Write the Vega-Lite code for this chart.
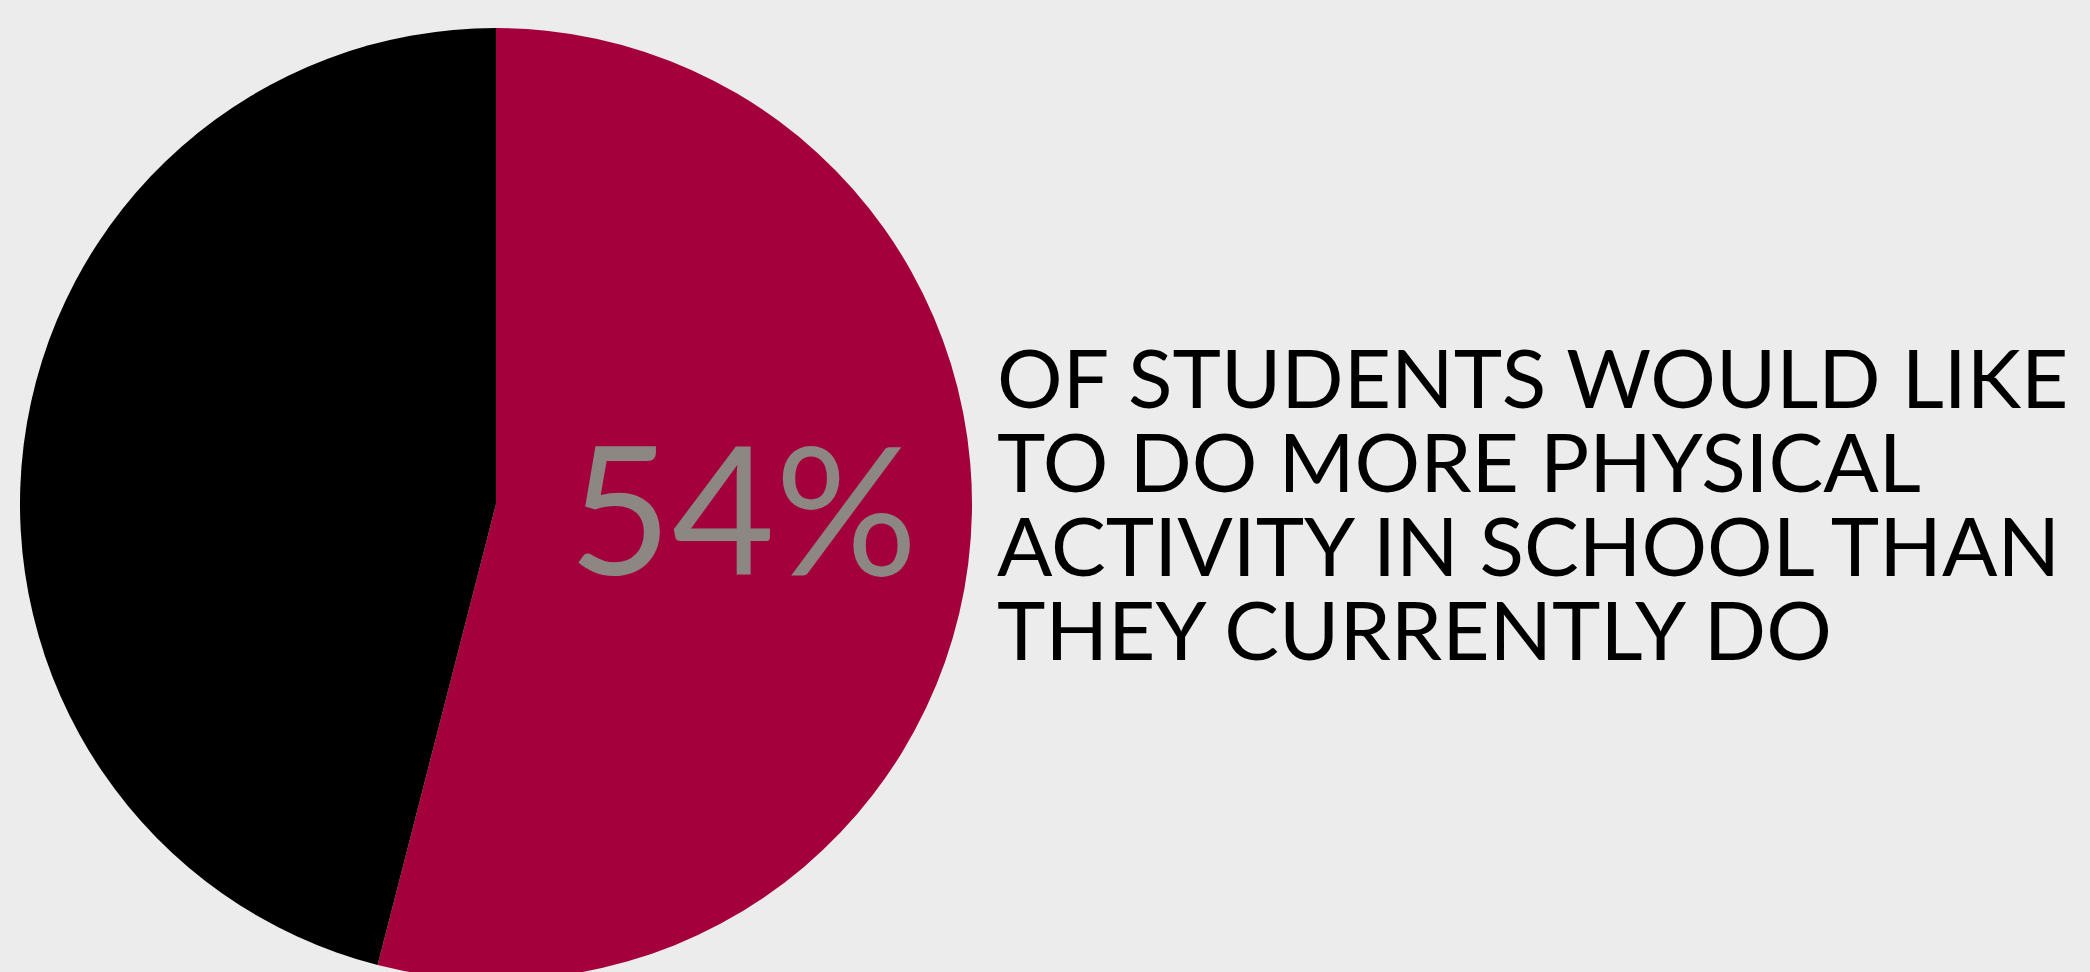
{
  "$schema": "https://vega.github.io/schema/vega-lite/v6.json",
  "padding": 0,
  "spacing": 0,
  "background": "#ececec",
  "config": {"view": {"stroke": null}},
  "datasets": {
    "pie": [
      {"answer": "Would like more physical activity", "share": 0.54},
      {"answer": "Would not", "share": 0.46}
    ],
    "statement": [
      {"text": "OF STUDENTS WOULD LIKE\nTO DO MORE PHYSICAL\nACTIVITY IN SCHOOL THAN\nTHEY CURRENTLY DO"}
    ]
  },
  "hconcat": [
    {
      "width": 992,
      "height": 1008,
      "layer": [
        {
          "data": {"name": "pie"},
          "mark": {"type": "arc", "radius": 476},
          "encoding": {
            "theta": {"field": "share", "type": "quantitative", "stack": true},
            "order": {"field": "share", "sort": "descending"},
            "color": {
              "field": "answer",
              "type": "nominal",
              "scale": {"domain": ["Would like more physical activity", "Would not"], "range": ["#a4003c", "#000000"]},
              "legend": null
            }
          }
        },
        {
          "data": {"name": "pie"},
          "transform": [{"filter": "datum.share == 0.54"}],
          "mark": {"type": "text", "align": "center", "baseline": "middle", "dx": 247, "dy": 18, "font": "Lato", "fontWeight": 400, "fontSize": 178, "color": "#8c8782"},
          "encoding": {
            "text": {"field": "share", "type": "quantitative", "format": ".0%"}
          }
        }
      ]
    },
    {
      "width": 1098,
      "height": 1008,
      "data": {"name": "statement"},
      "mark": {"type": "text", "align": "left", "baseline": "middle", "dx": -544, "dy": -121, "lineBreak": "\n", "lineHeight": 84, "font": "Lato", "fontSize": 82, "color": "#000000"},
      "encoding": {
        "text": {"field": "text", "type": "nominal"}
      }
    }
  ]
}
